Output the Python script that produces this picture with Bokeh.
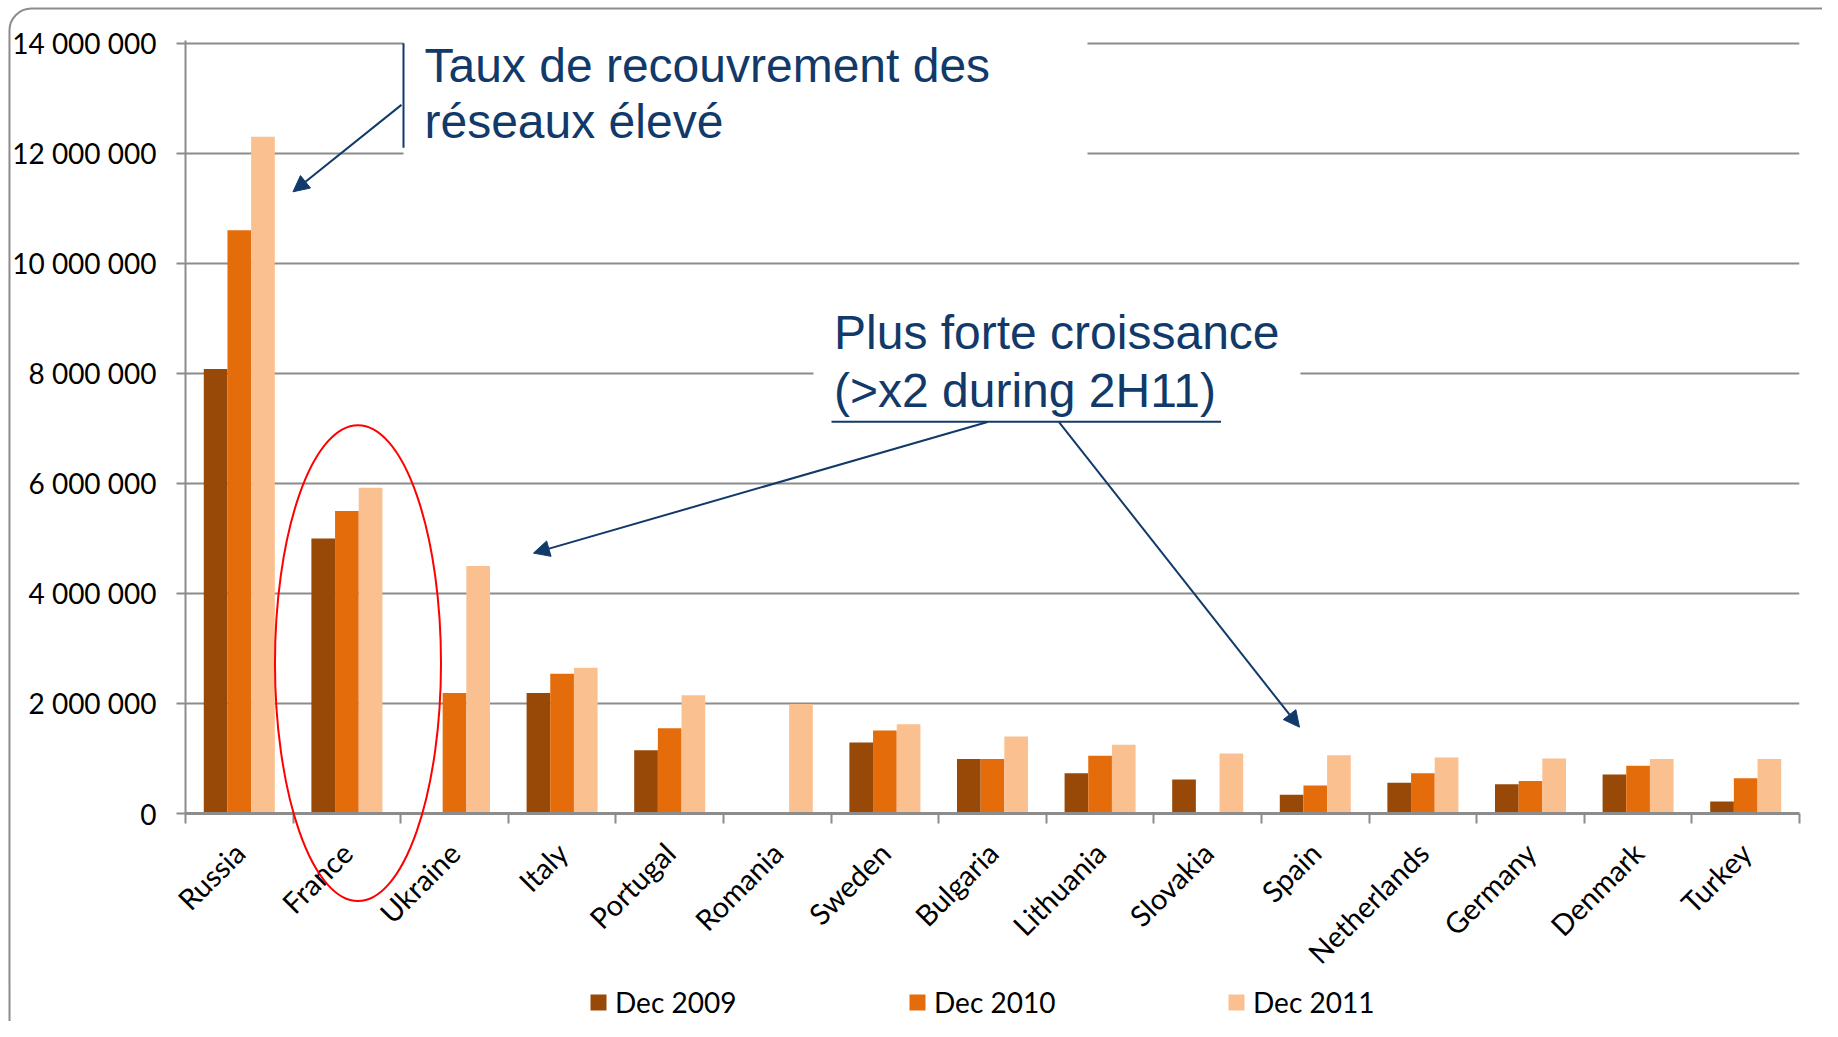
import math
from bokeh.plotting import figure
from bokeh.layouts import column
from bokeh.models import (Range1d, FixedTicker, Legend, LegendItem, Arrow, NormalHead,
                          ColumnDataSource)
from bokeh.core.properties import value
from bokeh.embed import file_html
from bokeh.resources import INLINE

# ---------------- data ----------------
countries = ["Russia", "France", "Ukraine", "Italy", "Portugal", "Romania", "Sweden",
             "Bulgaria", "Lithuania", "Slovakia", "Spain", "Netherlands", "Germany",
             "Denmark", "Turkey"]
dec2009 = [8080000, 5000000, 0, 2190000, 1150000, 0, 1290000, 990000, 730000, 620000,
           340000, 560000, 530000, 710000, 220000]
dec2010 = [10600000, 5500000, 2190000, 2540000, 1550000, 0, 1510000, 990000, 1050000, 0,
           510000, 730000, 590000, 870000, 640000]
dec2011 = [12300000, 5920000, 4500000, 2650000, 2150000, 1990000, 1620000, 1400000,
           1250000, 1090000, 1060000, 1020000, 1000000, 990000, 990000]
series_names = ["Dec 2009", "Dec 2010", "Dec 2011"]
y_ticks = [0, 2000000, 4000000, 6000000, 8000000, 10000000, 12000000, 14000000]
y_tick_labels = ["0", "2 000 000", "4 000 000", "6 000 000", "8 000 000",
                 "10 000 000", "12 000 000", "14 000 000"]

colors = ["#984807", "#E46C0A", "#FAC090"]
navy = "#113A6A"
grey = "#8C8C8C"
label_font = "Lato"

n = len(countries)
centers = [i + 0.5 for i in range(n)]
bounds = [i for i in range(n + 1)]

W = 1822
H_MAIN = 985
H_LEG = 36

p = figure(width=W, height=H_MAIN, output_backend="svg", toolbar_location=None,
           x_range=Range1d(0, n), y_range=Range1d(0, 14050000),
           min_border_left=185, min_border_right=23, min_border_top=40,
           min_border_bottom=172)
p.outline_line_color = None
p.background_fill_color = "white"
p.border_fill_color = "white"

# grid
p.xgrid.grid_line_color = None
p.ygrid.ticker = FixedTicker(ticks=y_ticks)
p.ygrid.grid_line_color = grey
p.ygrid.grid_line_width = 2

# y axis
p.yaxis.ticker = FixedTicker(ticks=y_ticks)
p.yaxis.major_label_overrides = {t: s for t, s in zip(y_ticks, y_tick_labels)}
p.yaxis.axis_line_color = grey
p.yaxis.axis_line_width = 2
p.yaxis.major_tick_line_color = grey
p.yaxis.major_tick_line_width = 2
p.yaxis.major_tick_out = 9
p.yaxis.major_tick_in = 0
p.yaxis.minor_tick_line_color = None
p.yaxis.major_label_text_font = label_font
p.yaxis.major_label_text_font_size = "28px"
p.yaxis.major_label_text_color = "black"
p.yaxis.major_label_standoff = 20

# x axis
p.xaxis.ticker = FixedTicker(ticks=centers, minor_ticks=bounds)
p.xaxis.major_label_overrides = {c: name for c, name in zip(centers, countries)}
p.xaxis.axis_line_color = grey
p.xaxis.axis_line_width = 3
p.xaxis.major_tick_line_color = None
p.xaxis.major_tick_out = 0
p.xaxis.major_tick_in = 0
p.xaxis.minor_tick_line_color = grey
p.xaxis.minor_tick_line_width = 2
p.xaxis.minor_tick_out = 10
p.xaxis.minor_tick_in = 0
p.xaxis.major_label_orientation = math.pi / 4
p.xaxis.major_label_text_font = label_font
p.xaxis.major_label_text_font_size = "29px"
p.xaxis.major_label_text_color = "black"
p.xaxis.major_label_standoff = 24

# bars
bw = 0.22
offsets = [-0.22, 0.0, 0.22]
for vals, off, col in zip([dec2009, dec2010, dec2011], offsets, colors):
    src = ColumnDataSource(dict(x=[c + off for c in centers], top=vals))
    p.vbar(x="x", top="top", width=bw, bottom=0, source=src,
           fill_color=col, line_color=None)

# white backgrounds of the text boxes (hide gridlines)
p.quad(left=[2.026, 5.836], right=[8.383, 10.362], top=[14100000, 9330000],
       bottom=[11850000, 6970000], fill_color="white", line_color=None)

# callout accent bar and underline
p.segment(x0=[2.026], y0=[14000000], x1=[2.026], y1=[12100000],
          line_color=navy, line_width=2)
p.segment(x0=[6.004], y0=[7120000], x1=[9.624], y1=[7120000],
          line_color=navy, line_width=2)

# texts
p.text(x=[2.221, 2.221], y=[13590000, 12570000],
       text=["Taux de recouvrement des", "réseaux élevé"],
       text_font=value("Liberation Sans"), text_font_size="48px", text_color=navy,
       text_align="left", text_baseline="alphabetic")
p.text(x=[6.027, 6.027], y=[8740000, 7690000],
       text=["Plus forte croissance", "(>x2 during 2H11)"],
       text_font=value("Liberation Sans"), text_font_size="48px", text_color=navy,
       text_align="left", text_baseline="alphabetic")

# arrows
for xs, ys, xe, ye in [(2.007, 12880000, 0.999, 11300000),
                       (7.454, 7115000, 3.234, 4733000),
                       (8.118, 7115000, 10.353, 1569000)]:
    p.add_layout(Arrow(end=NormalHead(size=16, fill_color=navy, line_color=navy),
                       x_start=xs, y_start=ys, x_end=xe, y_end=ye,
                       line_color=navy, line_width=2))

# red ellipse around France
p.ellipse(x=[1.603], y=[2733000], width=[1.543], height=[8650000],
          fill_alpha=0, line_color="red", line_width=2, level="overlay")

# outer rounded border of the chart area
p.quad(left=[-1.636], right=[15.47], top=[14630000], bottom=[-8000000],
       fill_alpha=0, line_color=grey, line_width=2, border_radius=22, level="overlay")

# ---------------- legend strip (x in page pixels, frame aligned with main plot) ----------------
q = figure(width=W, height=H_LEG, output_backend="svg", toolbar_location=None,
           x_range=Range1d(185, 1799), y_range=Range1d(0, H_LEG),
           x_axis_type=None, y_axis_type=None,
           min_border_left=185, min_border_right=23, min_border_top=0, min_border_bottom=0)
q.outline_line_color = None
q.xgrid.grid_line_color = None
q.ygrid.grid_line_color = None
q.background_fill_color = "white"
q.border_fill_color = "white"

leg_renderers = []
for col in colors:
    r = q.vbar(x=[-5000], top=[0], width=1, bottom=0, fill_color=col, line_color=None)
    leg_renderers.append(r)

q.quad(left=[9], right=[1850], top=[H_LEG + 100], bottom=[-19],
       fill_alpha=0, line_color=grey, line_width=2, border_radius=22, level="overlay")

legend = Legend(items=[LegendItem(label=s, renderers=[r])
                       for s, r in zip(series_names, leg_renderers)],
                orientation="horizontal", location=(403, 2),
                glyph_width=20, glyph_height=20, label_standoff=7, label_width=292,
                spacing=0, padding=0, margin=0,
                border_line_color=None, background_fill_alpha=0,
                label_text_font=label_font, label_text_font_size="28px",
                label_text_color="black")
q.add_layout(legend, "center")

layout = column(p, q, spacing=0)
open("out.html", "w").write(file_html(layout, INLINE))
